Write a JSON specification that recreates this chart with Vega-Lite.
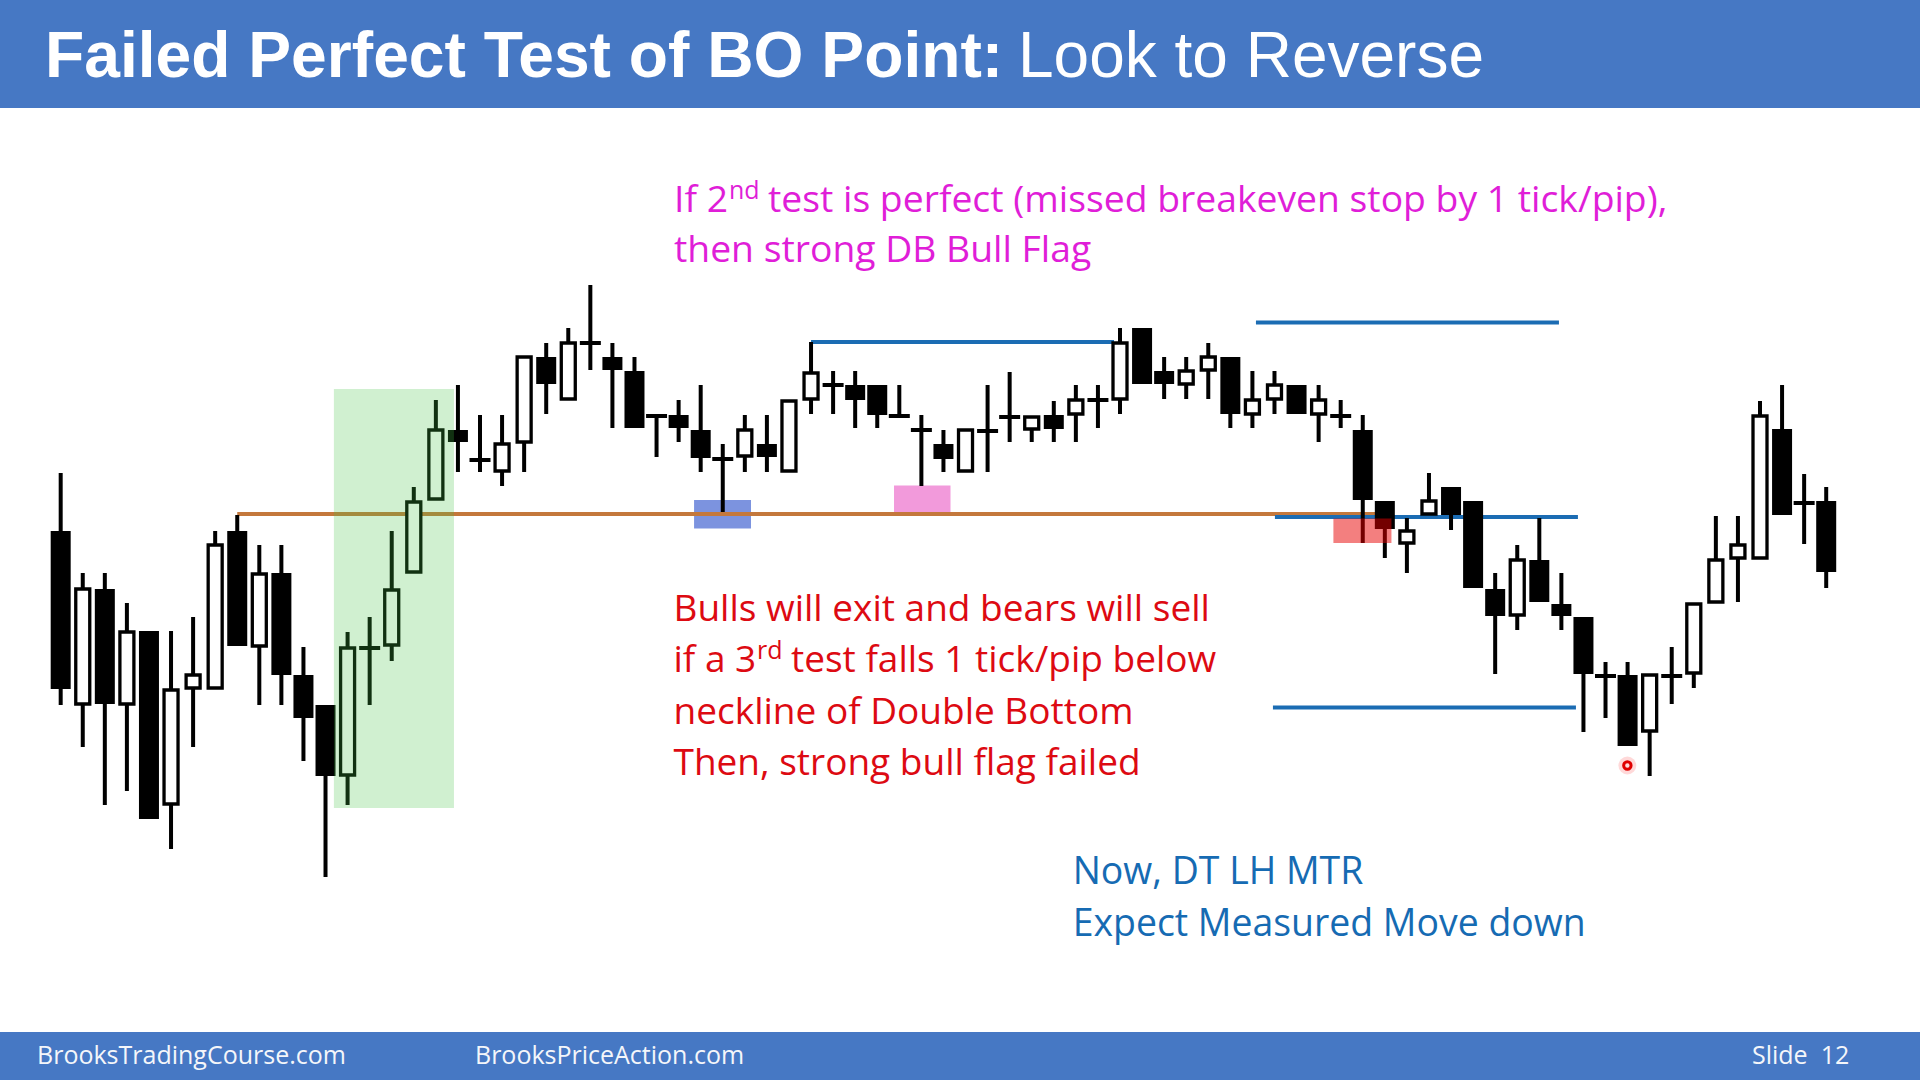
{
  "$schema": "https://vega.github.io/schema/vega-lite/v6.json",
  "width": 1920,
  "height": 1080,
  "autosize": {"type": "fit", "contains": "padding"},
  "padding": 0,
  "background": "#FFFFFF",
  "config": {"view": {"stroke": null}, "axis": {"disable": true}, "scale": {"continuousPadding": 0}},
  "datasets": {
    "candles": [
      {"i":0,"o":54.9,"h":60.7,"l":37.5,"c":39.1},
      {"i":1,"o":37.6,"h":50.7,"l":33.3,"c":49.1},
      {"i":2,"o":49.1,"h":50.7,"l":27.5,"c":37.6},
      {"i":3,"o":37.6,"h":47.7,"l":28.9,"c":44.8},
      {"i":4,"o":44.9,"h":44.9,"l":26.1,"c":26.1},
      {"i":5,"o":27.6,"h":44.9,"l":23.1,"c":39.0},
      {"i":6,"o":39.2,"h":46.3,"l":33.3,"c":40.5},
      {"i":7,"o":39.2,"h":54.9,"l":39.2,"c":53.5},
      {"i":8,"o":54.9,"h":56.5,"l":43.4,"c":43.4},
      {"i":9,"o":43.4,"h":53.5,"l":37.5,"c":50.6},
      {"i":10,"o":50.7,"h":53.5,"l":37.5,"c":40.5},
      {"i":11,"o":40.5,"h":43.3,"l":31.9,"c":36.2},
      {"i":12,"o":37.5,"h":37.5,"l":20.3,"c":30.4},
      {"i":13,"o":30.5,"h":44.8,"l":27.5,"c":43.2},
      {"i":14,"o":43.2,"h":46.3,"l":37.5,"c":43.2},
      {"i":15,"o":43.5,"h":54.9,"l":41.9,"c":49.0},
      {"i":16,"o":50.8,"h":59.3,"l":50.8,"c":57.8},
      {"i":17,"o":58.1,"h":68.0,"l":58.1,"c":65.0},
      {"i":18,"o":65.0,"h":69.5,"l":60.8,"c":63.8},
      {"i":19,"o":62.0,"h":66.5,"l":60.8,"c":62.0},
      {"i":20,"o":60.9,"h":66.5,"l":59.4,"c":63.6},
      {"i":21,"o":63.8,"h":72.3,"l":60.8,"c":72.3},
      {"i":22,"o":72.3,"h":73.7,"l":66.6,"c":69.6},
      {"i":23,"o":68.1,"h":75.2,"l":68.1,"c":73.7},
      {"i":24,"o":73.7,"h":79.5,"l":71.0,"c":73.7},
      {"i":25,"o":72.3,"h":73.7,"l":65.2,"c":71.0},
      {"i":26,"o":70.9,"h":72.3,"l":65.2,"c":65.2},
      {"i":27,"o":66.4,"h":66.4,"l":62.3,"c":66.4},
      {"i":28,"o":66.5,"h":68.0,"l":63.8,"c":65.2},
      {"i":29,"o":65.0,"h":69.5,"l":60.8,"c":62.2},
      {"i":30,"o":62.1,"h":63.6,"l":56.8,"c":62.1},
      {"i":31,"o":62.4,"h":66.5,"l":60.8,"c":65.0},
      {"i":32,"o":63.6,"h":66.5,"l":60.8,"c":62.3},
      {"i":33,"o":60.9,"h":67.9,"l":60.9,"c":67.9},
      {"i":34,"o":68.1,"h":73.8,"l":66.6,"c":70.7},
      {"i":35,"o":69.5,"h":70.9,"l":66.6,"c":69.5},
      {"i":36,"o":69.5,"h":70.9,"l":65.2,"c":68.0},
      {"i":37,"o":69.5,"h":69.5,"l":65.2,"c":66.5},
      {"i":38,"o":66.4,"h":69.5,"l":66.4,"c":66.4},
      {"i":39,"o":65.0,"h":66.5,"l":59.4,"c":65.0},
      {"i":40,"o":63.6,"h":65.0,"l":60.8,"c":62.1},
      {"i":41,"o":60.9,"h":65.0,"l":60.9,"c":65.0},
      {"i":42,"o":64.9,"h":69.5,"l":60.8,"c":64.9},
      {"i":43,"o":66.3,"h":70.8,"l":63.8,"c":66.3},
      {"i":44,"o":65.1,"h":66.3,"l":63.8,"c":66.3},
      {"i":45,"o":66.5,"h":67.9,"l":63.8,"c":65.1},
      {"i":46,"o":66.6,"h":69.5,"l":63.8,"c":68.0},
      {"i":47,"o":68.0,"h":69.5,"l":65.2,"c":68.0},
      {"i":48,"o":68.1,"h":75.2,"l":66.6,"c":73.7},
      {"i":49,"o":75.2,"h":75.2,"l":69.6,"c":69.6},
      {"i":50,"o":70.9,"h":72.3,"l":68.1,"c":69.6},
      {"i":51,"o":69.6,"h":72.3,"l":68.1,"c":70.9},
      {"i":52,"o":71.0,"h":73.7,"l":68.1,"c":72.3},
      {"i":53,"o":72.3,"h":72.3,"l":65.2,"c":66.6},
      {"i":54,"o":66.6,"h":70.9,"l":65.2,"c":68.0},
      {"i":55,"o":68.1,"h":70.9,"l":66.6,"c":69.5},
      {"i":56,"o":69.5,"h":69.5,"l":66.6,"c":66.6},
      {"i":57,"o":66.6,"h":69.5,"l":63.8,"c":68.0},
      {"i":58,"o":66.4,"h":68.0,"l":65.2,"c":66.4},
      {"i":59,"o":65.0,"h":66.5,"l":53.7,"c":58.0},
      {"i":60,"o":57.9,"h":57.9,"l":52.2,"c":55.1},
      {"i":61,"o":53.7,"h":56.2,"l":50.7,"c":54.9},
      {"i":62,"o":56.6,"h":60.7,"l":56.6,"c":57.9},
      {"i":63,"o":59.3,"h":59.3,"l":55.0,"c":56.5},
      {"i":64,"o":57.9,"h":57.9,"l":49.2,"c":49.2},
      {"i":65,"o":49.1,"h":50.7,"l":40.6,"c":46.4},
      {"i":66,"o":46.5,"h":53.5,"l":45.0,"c":52.0},
      {"i":67,"o":52.0,"h":56.2,"l":47.8,"c":47.8},
      {"i":68,"o":47.6,"h":50.7,"l":45.0,"c":46.4},
      {"i":69,"o":46.3,"h":46.3,"l":34.8,"c":40.6},
      {"i":70,"o":40.4,"h":41.8,"l":36.2,"c":40.4},
      {"i":71,"o":40.5,"h":41.8,"l":33.4,"c":33.4},
      {"i":72,"o":34.9,"h":40.5,"l":30.4,"c":40.5},
      {"i":73,"o":40.4,"h":43.3,"l":37.6,"c":40.4},
      {"i":74,"o":40.7,"h":47.6,"l":39.2,"c":47.6},
      {"i":75,"o":47.8,"h":56.4,"l":47.8,"c":52.0},
      {"i":76,"o":52.2,"h":56.4,"l":47.8,"c":53.5},
      {"i":77,"o":52.2,"h":67.9,"l":52.2,"c":66.4},
      {"i":78,"o":65.1,"h":69.5,"l":56.5,"c":56.5},
      {"i":79,"o":57.7,"h":60.6,"l":53.6,"c":57.7},
      {"i":80,"o":57.9,"h":59.3,"l":49.2,"c":50.8}
    ],
    "bands": [
      {"x":-2.75,"x2":84.25,"y":97.2,"y2":108},
      {"x":-2.75,"x2":84.25,"y":0,"y2":4.8}
    ],
    "zones": [
      {"kind":"green","x":12.38,"x2":17.82,"y":27.2,"y2":69.1},
      {"kind":"blue","x":28.7,"x2":31.28,"y":55.15,"y2":58.0},
      {"kind":"pink","x":37.76,"x2":40.32,"y":56.8,"y2":59.45},
      {"kind":"red","x":57.67,"x2":60.3,"y":53.7,"y2":56.15}
    ],
    "lines": [
      {"kind":"neck","x":8.0,"x2":59.69,"y":56.6},
      {"kind":"level","x":34.0,"x2":47.73,"y":73.8},
      {"kind":"level","x":54.16,"x2":67.89,"y":75.75},
      {"kind":"level","x":55.02,"x2":68.75,"y":56.3},
      {"kind":"level","x":54.93,"x2":68.66,"y":37.25}
    ],
    "marker": [
      {"x":70.99,"y":31.45}
    ],
    "notes": [
      {"g":"titleB","x":-0.711,"y":100.3,"t":"Failed Perfect Test of BO Point:"},
      {"g":"titleR","x":43.378,"y":100.3,"t":"Look to Reverse"},
      {"g":"foot","x":-1.073,"y":1.6,"t":"BrooksTradingCourse.com"},
      {"g":"foot","x":18.773,"y":1.6,"t":"BrooksPriceAction.com"},
      {"g":"foot","x":76.637,"y":1.6,"t":"Slide\u00a0 12"},
      {"g":"mag","x":27.791,"y":86.82,"t":"If 2"},
      {"g":"magSup","x":30.283,"y":88.12,"t":"nd"},
      {"g":"mag","x":32.05,"y":86.82,"t":"test is perfect (missed breakeven stop by 1 tick/pip),"},
      {"g":"mag","x":27.791,"y":81.8,"t":"then strong DB Bull Flag"},
      {"g":"red","x":27.768,"y":45.92,"t":"Bulls will exit and bears will sell"},
      {"g":"red","x":27.768,"y":40.77,"t":"if a 3"},
      {"g":"redSup","x":31.552,"y":42.07,"t":"rd"},
      {"g":"red","x":33.092,"y":40.77,"t":"test falls 1 tick/pip below"},
      {"g":"red","x":27.768,"y":35.63,"t":"neckline of Double Bottom"},
      {"g":"red","x":27.768,"y":30.49,"t":"Then, strong bull flag failed"},
      {"g":"blue","x":45.856,"y":19.59,"t":"Now, DT LH MTR"},
      {"g":"blue","x":45.856,"y":14.45,"t":"Expect Measured Move down"}
    ]
  },
  "layer": [
    {
      "data": {"name": "bands"},
      "mark": {"type": "rect", "fill": "#4678C4"},
      "encoding": {
        "x": {"field": "x", "type": "quantitative", "scale": {"domain": [-2.75, 84.25], "nice": false, "zero": false, "padding": 0}, "axis": null},
        "x2": {"field": "x2"},
        "y": {"field": "y", "type": "quantitative", "scale": {"domain": [0, 108], "nice": false, "zero": false, "padding": 0}, "axis": null},
        "y2": {"field": "y2"}
      }
    },
    {
      "data": {"name": "zones"},
      "transform": [{"filter": "datum.kind == 'blue'"}],
      "mark": {"type": "rect", "fill": "#7C93DF"},
      "encoding": {
        "x": {"field": "x", "type": "quantitative", "scale": {"domain": [-2.75, 84.25], "nice": false, "zero": false, "padding": 0}, "axis": null},
        "x2": {"field": "x2"},
        "y": {"field": "y", "type": "quantitative", "scale": {"domain": [0, 108], "nice": false, "zero": false, "padding": 0}, "axis": null},
        "y2": {"field": "y2"}
      }
    },
    {
      "data": {"name": "zones"},
      "transform": [{"filter": "datum.kind == 'pink'"}],
      "mark": {"type": "rect", "fill": "#F29ADB"},
      "encoding": {
        "x": {"field": "x", "type": "quantitative", "scale": {"domain": [-2.75, 84.25], "nice": false, "zero": false, "padding": 0}, "axis": null},
        "x2": {"field": "x2"},
        "y": {"field": "y", "type": "quantitative", "scale": {"domain": [0, 108], "nice": false, "zero": false, "padding": 0}, "axis": null},
        "y2": {"field": "y2"}
      }
    },
    {
      "data": {"name": "lines"},
      "transform": [{"filter": "datum.kind == 'neck'"}],
      "mark": {"type": "rule", "color": "#C4783C", "strokeWidth": 4},
      "encoding": {
        "x": {"field": "x", "type": "quantitative", "scale": {"domain": [-2.75, 84.25], "nice": false, "zero": false, "padding": 0}, "axis": null},
        "x2": {"field": "x2"},
        "y": {"field": "y", "type": "quantitative", "scale": {"domain": [0, 108], "nice": false, "zero": false, "padding": 0}, "axis": null}
      }
    },
    {
      "data": {"name": "lines"},
      "transform": [{"filter": "datum.kind == 'level'"}],
      "mark": {"type": "rule", "color": "#1B6CB3", "strokeWidth": 4},
      "encoding": {
        "x": {"field": "x", "type": "quantitative", "scale": {"domain": [-2.75, 84.25], "nice": false, "zero": false, "padding": 0}, "axis": null},
        "x2": {"field": "x2"},
        "y": {"field": "y", "type": "quantitative", "scale": {"domain": [0, 108], "nice": false, "zero": false, "padding": 0}, "axis": null}
      }
    },
    {
      "data": {"name": "candles"},
      "mark": {"type": "rule", "color": "#000000", "strokeWidth": 4},
      "encoding": {
        "x": {"field": "i", "type": "quantitative", "scale": {"domain": [-2.75, 84.25], "nice": false, "zero": false, "padding": 0}, "axis": null},
        "y": {"field": "l", "type": "quantitative", "scale": {"domain": [0, 108], "nice": false, "zero": false, "padding": 0}, "axis": null},
        "y2": {"field": "h"}
      }
    },
    {
      "data": {"name": "candles"},
      "transform": [{"filter": "datum.c < datum.o"}],
      "mark": {"type": "bar", "width": 20, "fill": "#000000", "opacity": 1},
      "encoding": {
        "x": {"field": "i", "type": "quantitative", "scale": {"domain": [-2.75, 84.25], "nice": false, "zero": false, "padding": 0}, "axis": null},
        "y": {"field": "o", "type": "quantitative", "scale": {"domain": [0, 108], "nice": false, "zero": false, "padding": 0}, "axis": null},
        "y2": {"field": "c"}
      }
    },
    {
      "data": {"name": "candles"},
      "transform": [{"filter": "datum.c > datum.o"}],
      "mark": {"type": "bar", "width": 14, "fill": "#FFFFFF", "stroke": "#000000", "strokeWidth": 3.3, "opacity": 1},
      "encoding": {
        "x": {"field": "i", "type": "quantitative", "scale": {"domain": [-2.75, 84.25], "nice": false, "zero": false, "padding": 0}, "axis": null},
        "y": {"field": "o", "type": "quantitative", "scale": {"domain": [0, 108], "nice": false, "zero": false, "padding": 0}, "axis": null},
        "y2": {"field": "c"}
      }
    },
    {
      "data": {"name": "candles"},
      "transform": [{"filter": "datum.c == datum.o"}],
      "mark": {"type": "tick", "orient": "horizontal", "size": 21, "thickness": 4, "color": "#000000", "opacity": 1},
      "encoding": {
        "x": {"field": "i", "type": "quantitative", "scale": {"domain": [-2.75, 84.25], "nice": false, "zero": false, "padding": 0}, "axis": null},
        "y": {"field": "c", "type": "quantitative", "scale": {"domain": [0, 108], "nice": false, "zero": false, "padding": 0}, "axis": null}
      }
    },
    {
      "data": {"name": "zones"},
      "transform": [{"filter": "datum.kind == 'green'"}],
      "mark": {"type": "rect", "fill": "#43C343", "opacity": 0.25},
      "encoding": {
        "x": {"field": "x", "type": "quantitative", "scale": {"domain": [-2.75, 84.25], "nice": false, "zero": false, "padding": 0}, "axis": null},
        "x2": {"field": "x2"},
        "y": {"field": "y", "type": "quantitative", "scale": {"domain": [0, 108], "nice": false, "zero": false, "padding": 0}, "axis": null},
        "y2": {"field": "y2"}
      }
    },
    {
      "data": {"name": "zones"},
      "transform": [{"filter": "datum.kind == 'red'"}],
      "mark": {"type": "rect", "fill": "#E80000", "opacity": 0.5},
      "encoding": {
        "x": {"field": "x", "type": "quantitative", "scale": {"domain": [-2.75, 84.25], "nice": false, "zero": false, "padding": 0}, "axis": null},
        "x2": {"field": "x2"},
        "y": {"field": "y", "type": "quantitative", "scale": {"domain": [0, 108], "nice": false, "zero": false, "padding": 0}, "axis": null},
        "y2": {"field": "y2"}
      }
    },
    {
      "data": {"name": "marker"},
      "mark": {"type": "point", "shape": "circle", "filled": true, "fill": "#FF5050", "opacity": 0.22, "size": 320, "strokeWidth": 0},
      "encoding": {
        "x": {"field": "x", "type": "quantitative", "scale": {"domain": [-2.75, 84.25], "nice": false, "zero": false, "padding": 0}, "axis": null},
        "y": {"field": "y", "type": "quantitative", "scale": {"domain": [0, 108], "nice": false, "zero": false, "padding": 0}, "axis": null}
      }
    },
    {
      "data": {"name": "marker"},
      "mark": {"type": "point", "shape": "circle", "filled": false, "stroke": "#E00000", "strokeWidth": 3, "size": 55, "opacity": 1},
      "encoding": {
        "x": {"field": "x", "type": "quantitative", "scale": {"domain": [-2.75, 84.25], "nice": false, "zero": false, "padding": 0}, "axis": null},
        "y": {"field": "y", "type": "quantitative", "scale": {"domain": [0, 108], "nice": false, "zero": false, "padding": 0}, "axis": null}
      }
    },
    {
      "data": {"name": "notes"},
      "transform": [{"filter": "datum.g == 'titleB'"}],
      "mark": {"type": "text", "align": "left", "baseline": "alphabetic", "font": "Liberation Sans", "fontWeight": "bold", "fontSize": 64.2, "color": "#FFFFFF"},
      "encoding": {
        "x": {"field": "x", "type": "quantitative", "scale": {"domain": [-2.75, 84.25], "nice": false, "zero": false, "padding": 0}, "axis": null},
        "y": {"field": "y", "type": "quantitative", "scale": {"domain": [0, 108], "nice": false, "zero": false, "padding": 0}, "axis": null},
        "text": {"field": "t"}
      }
    },
    {
      "data": {"name": "notes"},
      "transform": [{"filter": "datum.g == 'titleR'"}],
      "mark": {"type": "text", "align": "left", "baseline": "alphabetic", "font": "Liberation Sans", "fontWeight": "normal", "fontSize": 64, "color": "#FFFFFF"},
      "encoding": {
        "x": {"field": "x", "type": "quantitative", "scale": {"domain": [-2.75, 84.25], "nice": false, "zero": false, "padding": 0}, "axis": null},
        "y": {"field": "y", "type": "quantitative", "scale": {"domain": [0, 108], "nice": false, "zero": false, "padding": 0}, "axis": null},
        "text": {"field": "t"}
      }
    },
    {
      "data": {"name": "notes"},
      "transform": [{"filter": "datum.g == 'foot'"}],
      "mark": {"type": "text", "align": "left", "baseline": "alphabetic", "font": "Open Sans", "fontSize": 25, "color": "#F4F6FA"},
      "encoding": {
        "x": {"field": "x", "type": "quantitative", "scale": {"domain": [-2.75, 84.25], "nice": false, "zero": false, "padding": 0}, "axis": null},
        "y": {"field": "y", "type": "quantitative", "scale": {"domain": [0, 108], "nice": false, "zero": false, "padding": 0}, "axis": null},
        "text": {"field": "t"}
      }
    },
    {
      "data": {"name": "notes"},
      "transform": [{"filter": "datum.g == 'mag'"}],
      "mark": {"type": "text", "align": "left", "baseline": "alphabetic", "font": "Open Sans", "fontSize": 37.3, "color": "#E01ED8"},
      "encoding": {
        "x": {"field": "x", "type": "quantitative", "scale": {"domain": [-2.75, 84.25], "nice": false, "zero": false, "padding": 0}, "axis": null},
        "y": {"field": "y", "type": "quantitative", "scale": {"domain": [0, 108], "nice": false, "zero": false, "padding": 0}, "axis": null},
        "text": {"field": "t"}
      }
    },
    {
      "data": {"name": "notes"},
      "transform": [{"filter": "datum.g == 'magSup'"}],
      "mark": {"type": "text", "align": "left", "baseline": "alphabetic", "font": "Open Sans", "fontSize": 25, "color": "#E01ED8"},
      "encoding": {
        "x": {"field": "x", "type": "quantitative", "scale": {"domain": [-2.75, 84.25], "nice": false, "zero": false, "padding": 0}, "axis": null},
        "y": {"field": "y", "type": "quantitative", "scale": {"domain": [0, 108], "nice": false, "zero": false, "padding": 0}, "axis": null},
        "text": {"field": "t"}
      }
    },
    {
      "data": {"name": "notes"},
      "transform": [{"filter": "datum.g == 'red'"}],
      "mark": {"type": "text", "align": "left", "baseline": "alphabetic", "font": "Open Sans", "fontSize": 37, "color": "#DD0A12"},
      "encoding": {
        "x": {"field": "x", "type": "quantitative", "scale": {"domain": [-2.75, 84.25], "nice": false, "zero": false, "padding": 0}, "axis": null},
        "y": {"field": "y", "type": "quantitative", "scale": {"domain": [0, 108], "nice": false, "zero": false, "padding": 0}, "axis": null},
        "text": {"field": "t"}
      }
    },
    {
      "data": {"name": "notes"},
      "transform": [{"filter": "datum.g == 'redSup'"}],
      "mark": {"type": "text", "align": "left", "baseline": "alphabetic", "font": "Open Sans", "fontSize": 25, "color": "#DD0A12"},
      "encoding": {
        "x": {"field": "x", "type": "quantitative", "scale": {"domain": [-2.75, 84.25], "nice": false, "zero": false, "padding": 0}, "axis": null},
        "y": {"field": "y", "type": "quantitative", "scale": {"domain": [0, 108], "nice": false, "zero": false, "padding": 0}, "axis": null},
        "text": {"field": "t"}
      }
    },
    {
      "data": {"name": "notes"},
      "transform": [{"filter": "datum.g == 'blue'"}],
      "mark": {"type": "text", "align": "left", "baseline": "alphabetic", "font": "Open Sans", "fontSize": 37.4, "color": "#166BB3"},
      "encoding": {
        "x": {"field": "x", "type": "quantitative", "scale": {"domain": [-2.75, 84.25], "nice": false, "zero": false, "padding": 0}, "axis": null},
        "y": {"field": "y", "type": "quantitative", "scale": {"domain": [0, 108], "nice": false, "zero": false, "padding": 0}, "axis": null},
        "text": {"field": "t"}
      }
    }
  ]
}
